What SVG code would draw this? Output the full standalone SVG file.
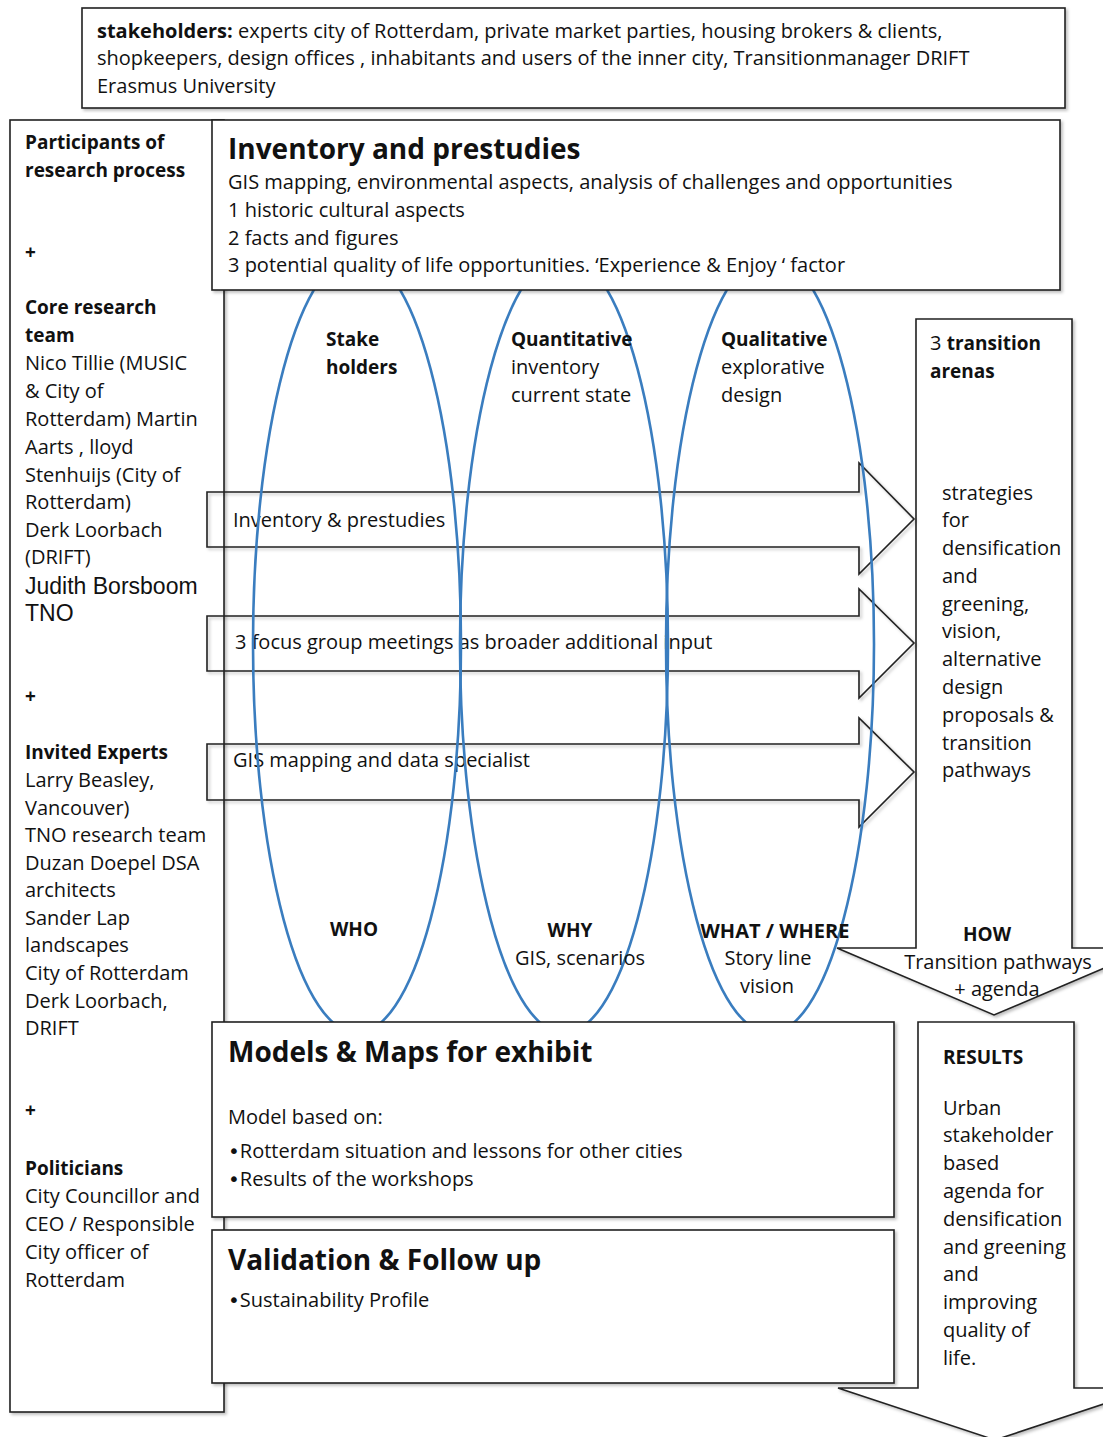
<svg xmlns="http://www.w3.org/2000/svg" width="1103" height="1437" viewBox="0 0 1103 1437">
<style>
  .box{fill:#fff;stroke:#222;stroke-width:1.6;filter:url(#sh)}
  .arr{fill:none;stroke:#222;stroke-width:1.6;filter:url(#sh)}
  .ell{fill:none;stroke:#3a7dbf;stroke-width:2.6}
  text{font-family:"Open Sans","Noto Sans","Liberation Sans",sans-serif;font-size:20px;fill:#111}
  .b{font-weight:bold;font-size:19px}
  .h{font-size:28px;font-weight:bold}
  .ar{font-family:"Liberation Sans",Arial,sans-serif;font-size:23px}
  .m{text-anchor:middle}
  .bul{font-family:"DejaVu Sans",sans-serif;font-size:20px}
</style>
<defs>
  <filter id="sh" x="-5%" y="-5%" width="110%" height="110%">
    <feDropShadow dx="2" dy="2" stdDeviation="1.5" flood-color="#000" flood-opacity="0.25"/>
  </filter>
</defs>
<rect width="1103" height="1437" fill="#fff"/>

<g id="stakeholders">
  <rect class="box" x="82" y="8" width="983" height="100"/>
  <text x="97" y="38"><tspan class="b" style="font-size:20px">stakeholders:</tspan> experts city of Rotterdam, private market parties, housing brokers &amp; clients,</text>
  <text x="97" y="65">shopkeepers,  design offices , inhabitants and users of the inner city, Transitionmanager DRIFT</text>
  <text x="97" y="93">Erasmus University</text>
</g>

<g id="participants">
  <rect class="box" x="10" y="120" width="214" height="1292"/>
  <text x="25" y="149" class="b">Participants of</text>
  <text x="25" y="177" class="b">research process</text>
  <text x="25" y="259" class="b">+</text>
  <text x="25" y="314" class="b">Core research</text>
  <text x="25" y="342" class="b">team</text>
  <text x="25" y="370">Nico Tillie (MUSIC</text>
  <text x="25" y="398">&amp; City of</text>
  <text x="25" y="426">Rotterdam) Martin</text>
  <text x="25" y="454">Aarts , lloyd</text>
  <text x="25" y="482">Stenhuijs (City of</text>
  <text x="25" y="509">Rotterdam)</text>
  <text x="25" y="537">Derk Loorbach</text>
  <text x="25" y="564">(DRIFT)</text>
  <text x="25" y="594" class="ar">Judith Borsboom</text>
  <text x="25" y="621" class="ar">TNO</text>
  <text x="25" y="703" class="b">+</text>
  <text x="25" y="759" class="b">Invited Experts</text>
  <text x="25" y="787">Larry Beasley,</text>
  <text x="25" y="815">Vancouver)</text>
  <text x="25" y="842">TNO research team</text>
  <text x="25" y="870">Duzan Doepel DSA</text>
  <text x="25" y="897">architects</text>
  <text x="25" y="925">Sander Lap</text>
  <text x="25" y="952">landscapes</text>
  <text x="25" y="980">City of Rotterdam</text>
  <text x="25" y="1008">Derk Loorbach,</text>
  <text x="25" y="1035">DRIFT</text>
  <text x="25" y="1117" class="b">+</text>
  <text x="25" y="1175" class="b">Politicians</text>
  <text x="25" y="1203">City Councillor and</text>
  <text x="25" y="1231">CEO / Responsible</text>
  <text x="25" y="1259">City  officer of</text>
  <text x="25" y="1287">Rotterdam</text>
</g>

<g id="transition-arenas">
  <path class="box" d="M916,319 H1072 V948 H1151 L994,1015 L837,948 H916 Z"/>
  <text x="930" y="350">3 <tspan class="b">transition</tspan></text>
  <text x="930" y="378" class="b">arenas</text>
  <text x="942" y="500">strategies</text>
  <text x="942" y="527">for</text>
  <text x="942" y="555">densification</text>
  <text x="942" y="583">and</text>
  <text x="942" y="611">greening,</text>
  <text x="942" y="638">vision,</text>
  <text x="942" y="666">alternative</text>
  <text x="942" y="694">design</text>
  <text x="942" y="722">proposals &amp;</text>
  <text x="942" y="750">transition</text>
  <text x="942" y="777">pathways</text>
  <text x="987" y="941" class="b m">HOW</text>
  <text x="998" y="969" class="m">Transition pathways</text>
  <text x="997" y="996" class="m">+ agenda</text>
</g>

<g id="results">
  <path class="box" d="M918,1022 H1074 V1388 H1152 L995,1440 L838,1388 H918 Z"/>
  <text x="943" y="1064" class="b">RESULTS</text>
  <text x="943" y="1115">Urban</text>
  <text x="943" y="1142">stakeholder</text>
  <text x="943" y="1170">based</text>
  <text x="943" y="1198">agenda for</text>
  <text x="943" y="1226">densification</text>
  <text x="943" y="1254">and greening</text>
  <text x="943" y="1281">and</text>
  <text x="943" y="1309">improving</text>
  <text x="943" y="1337">quality of</text>
  <text x="943" y="1365">life.</text>
</g>

<g id="connectors">
  <path class="arr" d="M207,492 H859 V463 L914,519 L859,574 V547 H207 Z"/>
  <path class="arr" d="M207,616 H859 V589 L914,643 L859,698 V671 H207 Z"/>
  <path class="arr" d="M207,744 H859 V718 L914,772 L859,827 V800 H207 Z"/>
  <text x="233" y="527">Inventory &amp; prestudies</text>
  <text x="235" y="649">3 focus group meetings as broader additional input</text>
  <text x="233" y="767">GIS mapping and data specialist</text>
</g>

<g id="ellipses">
  <ellipse class="ell" cx="357" cy="644" rx="104" ry="389"/>
  <ellipse class="ell" cx="564" cy="644" rx="104" ry="389"/>
  <ellipse class="ell" cx="770" cy="644" rx="104" ry="389"/>
</g>

<g id="inventory">
  <rect class="box" x="212" y="120" width="848" height="170"/>
  <text x="228" y="159" class="h">Inventory and prestudies</text>
  <text x="228" y="189">GIS mapping, environmental aspects, analysis of challenges and opportunities</text>
  <text x="228" y="217">1 historic cultural aspects</text>
  <text x="228" y="245">2 facts and figures</text>
  <text x="228" y="272">3 potential quality of life opportunities. ‘Experience &amp; Enjoy ‘ factor</text>
</g>

<g id="models">
  <rect class="box" x="212" y="1022" width="682" height="195"/>
  <text x="228" y="1062" class="h">Models &amp; Maps for exhibit</text>
  <text x="228" y="1124">Model based on:</text>
  <text x="228" y="1158"><tspan class="bul">•</tspan>Rotterdam situation and lessons for other cities</text>
  <text x="228" y="1186"><tspan class="bul">•</tspan>Results of the workshops</text>
</g>

<g id="validation">
  <rect class="box" x="212" y="1230" width="682" height="153"/>
  <text x="228" y="1270" class="h">Validation &amp; Follow up</text>
  <text x="228" y="1307"><tspan class="bul">•</tspan>Sustainability Profile</text>
</g>

<g id="ellipse-labels">
  <text x="326" y="346" class="b">Stake</text>
  <text x="326" y="374" class="b">holders</text>
  <text x="511" y="346" class="b">Quantitative</text>
  <text x="511" y="374">inventory</text>
  <text x="511" y="402">current state</text>
  <text x="721" y="346" class="b">Qualitative</text>
  <text x="721" y="374">explorative</text>
  <text x="721" y="402">design</text>
  <text x="354" y="936" class="b m">WHO</text>
  <text x="570" y="937" class="b m">WHY</text>
  <text x="580" y="965" class="m">GIS, scenarios</text>
  <text x="775" y="938" class="b m" style="font-size:20px">WHAT / WHERE</text>
  <text x="768" y="965" class="m">Story line</text>
  <text x="767" y="993" class="m">vision</text>
</g>
</svg>
